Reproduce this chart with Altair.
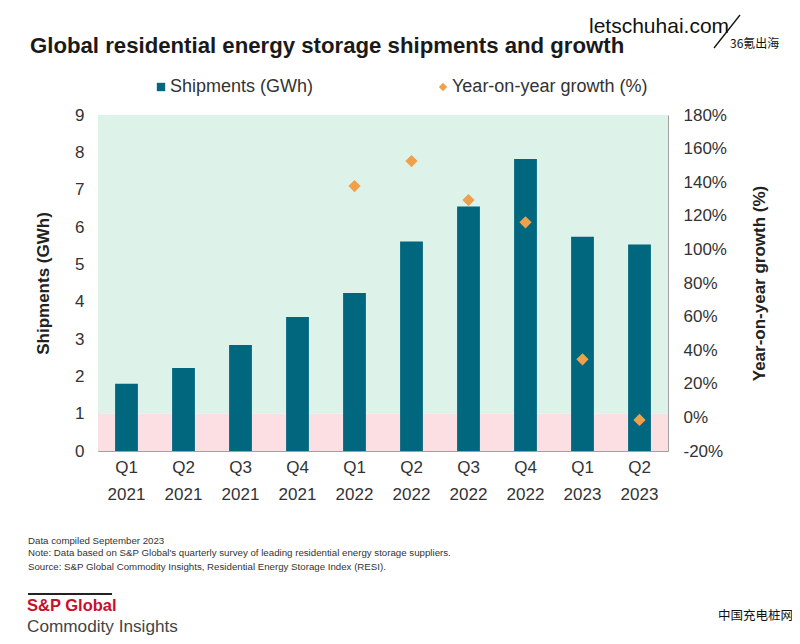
import altair as alt
import pandas as pd

# ---- data ----
quarters = ["Q1 2021", "Q2 2021", "Q3 2021", "Q4 2021", "Q1 2022",
            "Q2 2022", "Q3 2022", "Q4 2022", "Q1 2023", "Q2 2023"]
shipments_gwh = [1.8, 2.22, 2.84, 3.59, 4.23, 5.61, 6.55, 7.82, 5.74, 5.53]
growth_quarters = ["Q1 2022", "Q2 2022", "Q3 2022", "Q4 2022", "Q1 2023", "Q2 2023"]
growth_pct = [137.7, 152.6, 129.4, 116.1, 34.6, -1.5]

band_lo = [0, 1]
band_hi = [1, 9]
band_color = ["#FCDFE3", "#DDF3EA"]

FONT = "Liberation Sans"
TEAL = "#00677F"
ORANGE = "#F0A04B"
W, H = 570, 336
OX, OY = 98, 115  # plot origin on the page

df = pd.DataFrame({"q": quarters, "ship": shipments_gwh})
dg = pd.DataFrame({"q": growth_quarters, "g": growth_pct})
db = pd.DataFrame({"lo": band_lo, "hi": band_hi, "c": band_color})

xscale = alt.Scale(domain=quarters, paddingInner=0.6, paddingOuter=0.3)
xaxis = alt.Axis(labelExpr="split(datum.label, ' ')", labelFont=FONT, labelFontSize=17,
                 labelColor="#333333", labelLineHeight=27, labelPadding=8, ticks=False,
                 domainColor="#A0A0A0", labelAngle=0, title=None)
yscale = alt.Scale(domain=[0, 9], nice=False, zero=True)
yaxis = alt.Axis(values=list(range(10)), labelFont=FONT, labelFontSize=17, labelColor="#333333",
                 ticks=False, grid=False, domainColor="#A0A0A0", labelPadding=14,
                 title="Shipments (GWh)", titleFont=FONT, titleFontSize=17, titleFontWeight="bold",
                 titleColor="#222222", titlePadding=22)

bands = alt.Chart(db).mark_rect().encode(
    x=alt.value(0), x2=alt.value(W),
    y=alt.Y("lo:Q", scale=yscale, axis=yaxis),
    y2="hi:Q",
    color=alt.Color("c:N", scale=None),
)
bars = alt.Chart(df).mark_bar(color=TEAL).encode(
    x=alt.X("q:N", scale=xscale, axis=xaxis, sort=quarters),
    y=alt.Y("ship:Q", scale=yscale, axis=yaxis),
)
left = alt.layer(bands, bars)

points = alt.Chart(dg).mark_point(shape="diamond", filled=True, size=150, color=ORANGE, opacity=1).encode(
    x=alt.X("q:N", scale=xscale, axis=xaxis, sort=quarters),
    y=alt.Y("g:Q", scale=alt.Scale(domain=[-20, 180], nice=False, zero=False),
            axis=alt.Axis(orient="right", values=list(range(-20, 181, 20)),
                          labelExpr="datum.value + '%'", labelFont=FONT, labelFontSize=17,
                          labelColor="#333333", ticks=False, grid=False, domainColor="#A0A0A0",
                          labelPadding=15, title="Year-on-year growth (%)", titleFont=FONT,
                          titleFontSize=17, titleFontWeight="bold", titleColor="#222222",
                          titlePadding=25, titleAngle=270, titleBaseline="top")),
)

# ---- annotation texts ----
title_txt = ["Global residential energy storage shipments and growth"]
legend_labels = ["Shipments (GWh)", "Year-on-year growth (%)"]
notes = ["Data compiled September 2023",
         "Note: Data based on S&P Global's quarterly survey of leading residential energy storage suppliers.",
         "Source: S&P Global Commodity Insights, Residential Energy Storage Index (RESI)."]


def txt(text, px, py, size, color="#222222", weight="normal", align="left", baseline="middle", font=FONT):
    return alt.Chart(pd.DataFrame({"t": [text]})).mark_text(
        font=font, fontSize=size, color=color, fontWeight=weight, align=align, baseline=baseline
    ).encode(text="t:N", x=alt.value(px - OX), y=alt.value(py - OY))


texts = [
    txt(title_txt[0], 30, 46, 22.2, weight="bold", color="#1a1a1a"),
    txt(legend_labels[0], 170, 87, 18, color="#333333"),
    txt(legend_labels[1], 452, 87, 18, color="#333333"),
    txt(notes[0], 28, 541, 9.7, color="#333333"),
    txt(notes[1], 28, 553, 9.7, color="#333333"),
    txt(notes[2], 28, 567, 9.7, color="#333333"),
    txt("S&P Global", 27, 606, 16.5, color="#C8102E", weight="bold"),
    txt("Commodity Insights", 27, 627, 17.2, color="#444444"),
    txt("letschuhai.com", 589, 33, 21, color="#111111", baseline="alphabetic"),
    txt("36氪出海", 730, 44, 12, color="#111111", font="Noto Sans CJK SC"),
    txt("中国充电桩网", 718, 616, 12.5, color="#111111", font="Noto Sans CJK SC"),
]

legend_marks = [
    alt.Chart(pd.DataFrame({"k": ["a"]})).mark_point(shape="square", filled=True, size=70, color=TEAL, opacity=1)
    .encode(x=alt.value(161 - OX), y=alt.value(87 - OY)),
    alt.Chart(pd.DataFrame({"k": ["b"]})).mark_point(shape="diamond", filled=True, size=70, color=ORANGE, opacity=1)
    .encode(x=alt.value(443 - OX), y=alt.value(87 - OY)),
]

rules = [
    alt.Chart(pd.DataFrame({"k": ["r"]})).mark_rule(color="#222222", strokeWidth=2)
    .encode(x=alt.value(28 - OX), x2=alt.value(112 - OX), y=alt.value(594 - OY)),
    alt.Chart(pd.DataFrame({"k": ["s"]})).mark_rule(color="#111111", strokeWidth=1.3)
    .encode(x=alt.value(714 - OX), x2=alt.value(740 - OX), y=alt.value(48 - OY), y2=alt.value(15 - OY)),
]

chart = alt.layer(left, points, *texts, *legend_marks, *rules).resolve_scale(y="independent").properties(
    width=W, height=H,
    autosize=alt.AutoSizeParams(type="none"),
    padding={"left": OX - 8, "top": OY - 8, "right": 800 - 16 - (OX - 8) - W, "bottom": 644 - 16 - (OY - 8) - H},
    background="white",
).configure_view(stroke=None)

chart.save("out.html", embed_options={"renderer": "svg", "actions": False})
